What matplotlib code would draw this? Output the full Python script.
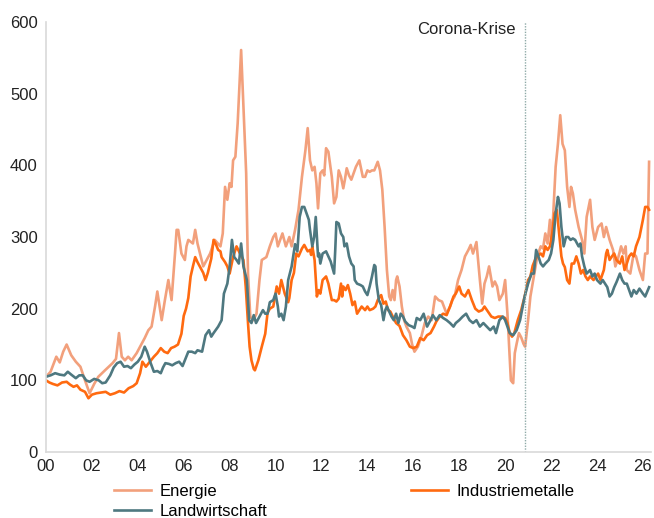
"""Rohstoffpreise nach Sektor (Index, 2000 = 100) mit Markierung der Corona-Krise."""

from __future__ import annotations

import matplotlib

matplotlib.use("Agg")
import matplotlib.pyplot as plt

# Jahre seit 2000 (Dezimaljahr) und Indexwerte
energie_t = [
    0.0, 0.2, 0.45, 0.6, 0.75, 0.9, 1.1, 1.3, 1.5, 1.7, 1.9, 2.1, 2.28, 2.57, 2.9, 3.05,
    3.18, 3.3, 3.44, 3.58, 3.73, 3.95, 4.1, 4.3, 4.46, 4.6, 4.75, 4.85, 5.04, 5.18, 5.33,
    5.47, 5.62, 5.69, 5.76, 5.9, 6.05, 6.12, 6.2, 6.4, 6.5, 6.6, 6.85, 7.0, 7.15, 7.35,
    7.6, 7.7, 7.8, 7.9, 8.0, 8.08, 8.15, 8.25, 8.35, 8.5, 8.6, 8.72, 8.8, 8.9, 9.03, 9.17,
    9.3, 9.4, 9.6, 9.75, 9.9, 10.0, 10.1, 10.2, 10.3, 10.45, 10.6, 10.7, 10.85, 11.0,
    11.15, 11.3, 11.4, 11.5, 11.6, 11.7, 11.78, 11.85, 11.95, 12.05, 12.12, 12.2, 12.3,
    12.45, 12.55, 12.65, 12.75, 12.85, 12.95, 13.02, 13.1, 13.2, 13.3, 13.4, 13.5, 13.65,
    13.8, 13.9, 14.0, 14.1, 14.2, 14.3, 14.45, 14.55, 14.65, 14.75, 14.85, 14.95, 15.02,
    15.1, 15.18, 15.25, 15.3, 15.4, 15.5, 15.6, 15.7, 15.85, 15.95, 16.05, 16.2, 16.35,
    16.5, 16.65, 16.8, 16.95, 17.1, 17.25, 17.45, 17.6, 17.7, 17.8, 17.95, 18.1, 18.25,
    18.4, 18.5, 18.6, 18.75, 18.9, 19.0, 19.1, 19.2, 19.3, 19.45, 19.55, 19.65, 19.75,
    19.9, 20.0, 20.1, 20.25, 20.35, 20.42, 20.5, 20.6, 20.7, 20.8, 20.87, 21.0, 21.1,
    21.25, 21.4, 21.55, 21.65, 21.75, 21.85, 21.95, 22.02, 22.1, 22.2, 22.3, 22.4, 22.5,
    22.6, 22.7, 22.8, 22.87, 22.95, 23.05, 23.2, 23.35, 23.45, 23.55, 23.7, 23.8, 23.9,
    24.05, 24.2, 24.3, 24.4, 24.55, 24.7, 24.8, 24.9, 25.05, 25.15, 25.25, 25.3, 25.45,
    25.6, 25.7, 25.85, 26.0, 26.1, 26.2, 26.27,
]
energie = [
    105, 112, 133, 125, 140, 150, 135, 126, 119, 100, 82, 95, 105, 114, 124, 130,
    166, 133, 128, 133, 128, 138, 147, 159, 170, 175, 203, 224, 184, 212, 240,
    212, 277, 310, 310, 277, 268, 287, 296, 291, 310, 291, 259, 268, 277, 296,
    287, 305, 370, 352, 375, 370, 407, 412, 459, 561, 482, 389, 249, 189, 184, 193,
    240, 268, 272, 287, 300, 305, 287, 296, 305, 287, 300, 287, 310, 338,
    384, 421, 452, 407, 393, 398, 375, 340, 389, 393, 386, 424, 419,
    384, 347, 356, 393, 384, 368, 380, 396, 386, 380, 389, 398, 407,
    384, 384, 393, 391, 393, 393, 405, 393, 366, 314, 254, 217, 212,
    226, 212, 240, 245, 231, 203, 184, 175, 166, 150, 140, 147, 161,
    180, 189, 184, 217, 212, 210, 193, 203, 212, 217, 240, 254, 273,
    282, 289, 277, 293, 240, 207, 235, 245, 259, 231, 238, 231, 212,
    221, 240, 193, 100, 96, 138, 151, 166, 160, 151, 147, 184, 217,
    245, 273, 287, 284, 305, 291, 324, 290, 335, 398, 430, 470, 430,
    421, 370, 342, 370, 361, 338, 314, 296, 277, 328, 352, 314, 296,
    314, 319, 300, 314, 296, 282, 259, 268, 287, 277, 287, 254, 249,
    277, 273, 254, 240, 277, 277, 405,
]

metalle_t = [
    0.0, 0.15, 0.3, 0.5, 0.7, 0.9, 1.05, 1.2, 1.35, 1.5, 1.7, 1.85, 2.0, 2.2, 2.4, 2.6,
    2.8, 3.0, 3.2, 3.4, 3.6, 3.8, 3.95, 4.1, 4.2, 4.35, 4.5, 4.7, 4.85, 5.0, 5.15, 5.3,
    5.45, 5.6, 5.75, 5.9, 6.0, 6.1, 6.2, 6.3, 6.4, 6.5, 6.6, 6.7, 6.85, 6.95, 7.05, 7.2,
    7.3, 7.4, 7.5, 7.6, 7.65, 7.8, 7.9, 8.0, 8.15, 8.3, 8.45, 8.6, 8.7, 8.8, 8.87, 8.95,
    9.05, 9.1, 9.25, 9.4, 9.55, 9.65, 9.75, 9.9, 10.05, 10.15, 10.25, 10.4, 10.55, 10.6,
    10.7, 10.8, 10.9, 11.0, 11.15, 11.25, 11.4, 11.5, 11.55, 11.6, 11.7, 11.8, 11.87,
    11.95, 12.05, 12.2, 12.3, 12.45, 12.55, 12.65, 12.75, 12.85, 12.9, 12.95, 13.05,
    13.15, 13.25, 13.35, 13.45, 13.55, 13.65, 13.75, 13.9, 14.0, 14.1, 14.25, 14.35,
    14.45, 14.55, 14.6, 14.7, 14.8, 14.9, 15.0, 15.15, 15.25, 15.4, 15.55, 15.7, 15.85,
    16.0, 16.15, 16.3, 16.45, 16.6, 16.75, 16.9, 17.0, 17.15, 17.3, 17.45, 17.6, 17.75,
    17.85, 18.0, 18.1, 18.25, 18.4, 18.55, 18.7, 18.85, 19.0, 19.1, 19.25, 19.4, 19.55,
    19.7, 19.85, 20.0, 20.1, 20.2, 20.3, 20.4, 20.55, 20.7, 20.85, 21.0, 21.1, 21.2,
    21.3, 21.4, 21.55, 21.65, 21.75, 21.85, 21.95, 22.05, 22.15, 22.25, 22.35, 22.45,
    22.52, 22.6, 22.7, 22.8, 22.9, 23.0, 23.1, 23.2, 23.3, 23.4, 23.5, 23.6, 23.7,
    23.85, 23.95, 24.05, 24.15, 24.3, 24.4, 24.45, 24.55, 24.65, 24.75, 24.85, 25.0,
    25.1, 25.2, 25.3, 25.4, 25.5, 25.6, 25.7, 25.85, 26.0, 26.1, 26.2, 26.27,
]
metalle = [
    100, 97, 95, 93, 97, 98, 94, 91, 93, 87, 84, 75, 80, 82, 83, 84,
    80, 82, 85, 83, 89, 92, 96, 110, 126, 119, 125, 133, 138, 145, 140, 138,
    145, 147, 150, 165, 190, 200, 215, 245, 259, 272, 265, 259, 250, 240, 250, 270,
    296, 290, 282, 280, 272, 265, 259, 249, 272, 287, 277, 268, 231, 180, 147, 128,
    116, 114, 128, 147, 165, 194, 200, 203, 231, 221, 240, 221, 209, 215,
    240, 250, 277, 273, 284, 289, 280, 282, 275, 287, 268, 217, 226,
    221, 240, 245, 235, 212, 212, 210, 214, 235, 217, 231, 226,
    233, 221, 205, 210, 193, 198, 203, 198, 203, 198, 200, 203,
    212, 217, 219, 207, 210, 198, 196, 186, 180, 176, 163, 156, 147,
    145, 147, 159, 156, 163, 166, 175, 182, 189, 193, 191, 203, 217,
    221, 231, 221, 217, 226, 212, 200, 196, 198, 203, 196, 189, 187,
    189, 189, 187, 180, 166, 161, 166, 184, 198, 217, 240, 245, 260,
    268, 273, 277, 273, 287, 282, 287, 305, 333, 338, 305, 273,
    263, 258, 240, 235, 263, 263, 273, 263, 249, 254, 245, 240, 245,
    240, 245, 249, 240, 254, 277, 282, 268, 273, 277, 268, 263,
    273, 254, 263, 273, 277, 273, 287, 300, 324, 342, 342, 338,
]

landwirtschaft_t = [
    0.0, 0.2, 0.4, 0.6, 0.8, 0.95, 1.1, 1.3, 1.45, 1.6, 1.75, 1.9, 2.1, 2.3, 2.45, 2.6,
    2.8, 2.95, 3.1, 3.25, 3.4, 3.55, 3.7, 3.85, 4.0, 4.15, 4.3, 4.4, 4.55, 4.7, 4.85,
    5.0, 5.1, 5.2, 5.35, 5.5, 5.65, 5.8, 5.95, 6.05, 6.2, 6.35, 6.5, 6.6, 6.8, 6.95,
    7.1, 7.2, 7.3, 7.5, 7.65, 7.75, 7.9, 8.0, 8.1, 8.2, 8.3, 8.4, 8.5, 8.6, 8.75, 8.85,
    8.95, 9.05, 9.15, 9.3, 9.45, 9.55, 9.65, 9.75, 9.9, 10.0, 10.1, 10.15, 10.25, 10.35,
    10.45, 10.55, 10.7, 10.85, 10.95, 11.05, 11.15, 11.25, 11.35, 11.45, 11.5, 11.6,
    11.68, 11.75, 11.85, 11.9, 11.95, 12.05, 12.2, 12.3, 12.4, 12.55, 12.6, 12.65,
    12.75, 12.85, 12.95, 13.0, 13.1, 13.2, 13.3, 13.4, 13.45, 13.55, 13.7, 13.8, 13.9,
    14.0, 14.1, 14.2, 14.3, 14.35, 14.4, 14.5, 14.6, 14.7, 14.78, 14.85, 14.95, 15.05,
    15.15, 15.25, 15.35, 15.45, 15.55, 15.65, 15.8, 15.95, 16.05, 16.15, 16.3, 16.45,
    16.6, 16.75, 16.85, 17.0, 17.15, 17.3, 17.45, 17.6, 17.75, 17.85, 18.0, 18.15, 18.3,
    18.45, 18.6, 18.75, 18.9, 19.05, 19.2, 19.35, 19.5, 19.6, 19.75, 19.9, 20.0, 20.1,
    20.2, 20.35, 20.5, 20.65, 20.85, 21.0, 21.15, 21.25, 21.35, 21.45, 21.55, 21.65,
    21.75, 21.9, 22.0, 22.1, 22.2, 22.3, 22.37, 22.45, 22.55, 22.65, 22.75, 22.85, 22.95,
    23.05, 23.2, 23.28, 23.35, 23.45, 23.55, 23.7, 23.8, 23.9, 24.0, 24.15, 24.25, 24.35,
    24.45, 24.55, 24.65, 24.75, 24.85, 25.0, 25.1, 25.2, 25.3, 25.4, 25.5, 25.6, 25.72,
    25.85, 26.0, 26.1, 26.27,
]
landwirtschaft = [
    105, 107, 110, 108, 107, 112, 108, 103, 107, 107, 100, 98, 102, 100, 96, 97,
    107, 118, 124, 126, 119, 120, 117, 122, 126, 133, 147, 140, 125, 112, 113,
    110, 118, 124, 123, 121, 124, 126, 120, 128, 140, 140, 138, 142, 140, 163,
    170, 161, 166, 175, 184, 221, 235, 259, 296, 272, 268, 263, 291, 259, 240, 184,
    180, 191, 180, 189, 198, 193, 193, 209, 212, 221, 203, 189, 193, 184,
    203, 240, 259, 290, 280, 328, 342, 342, 333, 324, 310, 287,
    300, 328, 273, 277, 263, 277, 280, 273, 266, 249, 282, 321,
    319, 305, 300, 287, 291, 273, 263, 259, 240, 235, 233, 231, 224,
    219, 231, 245, 261, 259, 235, 212, 205, 184, 198, 203, 196, 189,
    184, 193, 180, 193, 189, 182, 177, 175, 173, 187, 184, 193,
    175, 184, 191, 184, 191, 187, 184, 180, 175, 180, 184, 189, 193,
    184, 180, 184, 175, 180, 175, 170, 175, 166, 184, 189, 184, 175,
    166, 163, 170, 184, 217, 235, 249, 249, 282, 273, 263, 259,
    263, 268, 277, 296, 333, 356, 347, 314, 287, 300, 300, 296, 298,
    296, 287, 291, 273, 259, 249, 254, 245, 249, 240, 235, 240, 235,
    230, 217, 221, 230, 237, 249, 240, 235, 235, 226, 217, 226, 221,
    228, 221, 217, 230,
]

year_ticks = list(range(0, 27, 2))
year_labels = [f"{year:02d}" for year in year_ticks]
value_ticks = [0, 100, 200, 300, 400, 500, 600]

corona_start = 20.87
corona_label = "Corona-Krise"

COLORS = {
    "Energie": "#F2A07C",
    "Industriemetalle": "#FF6A10",
    "Landwirtschaft": "#4E7880",
}


def _draw_chart(output_path: str) -> None:
    plt.rcParams["font.family"] = ["Liberation Sans", "DejaVu Sans"]
    fig = plt.figure(figsize=(6.54, 5.18), dpi=100)
    ax = fig.add_axes([0.0703, 0.1274, 0.925, 0.830])

    lines = {}
    lines["Energie"], = ax.plot(energie_t, energie, color=COLORS["Energie"], lw=1.9)
    lines["Industriemetalle"], = ax.plot(
        metalle_t, metalle, color=COLORS["Industriemetalle"], lw=1.9
    )
    lines["Landwirtschaft"], = ax.plot(
        landwirtschaft_t, landwirtschaft, color=COLORS["Landwirtschaft"], lw=1.9
    )

    ax.axvline(corona_start, color="#8FAAA8", lw=1.0, ls=(0, (1, 1)), ymax=1.0)
    ax.text(
        corona_start - 0.4,
        590,
        corona_label,
        ha="right",
        va="center",
        fontsize=12,
        color="#222222",
    )

    ax.set_xlim(0, 26.35)
    ax.set_ylim(0, 600)
    ax.set_xticks(year_ticks, labels=year_labels)
    ax.set_yticks(value_ticks)
    ax.tick_params(axis="both", length=0, labelsize=12, colors="#222222")
    ax.tick_params(axis="x", pad=5)
    ax.tick_params(axis="y", pad=6)

    for side in ("top", "right"):
        ax.spines[side].set_visible(False)
    for side in ("left", "bottom"):
        ax.spines[side].set_color("#D9D9D9")
        ax.spines[side].set_linewidth(1.2)

    order = ["Energie", "Landwirtschaft", "Industriemetalle"]
    fig.legend(
        [lines[name] for name in order],
        order,
        loc="upper left",
        bbox_to_anchor=(114 / 654, 1 - 484 / 518),
        ncol=2,
        frameon=False,
        fontsize=12,
        handlelength=2.2,
        handletextpad=0.55,
        columnspacing=8.6,
        labelspacing=0.3,
        borderpad=0,
        borderaxespad=0,
    )

    fig.savefig(output_path, dpi=100)
    plt.close(fig)


def main() -> None:
    _draw_chart("out.png")


if __name__ == "__main__":
    main()
